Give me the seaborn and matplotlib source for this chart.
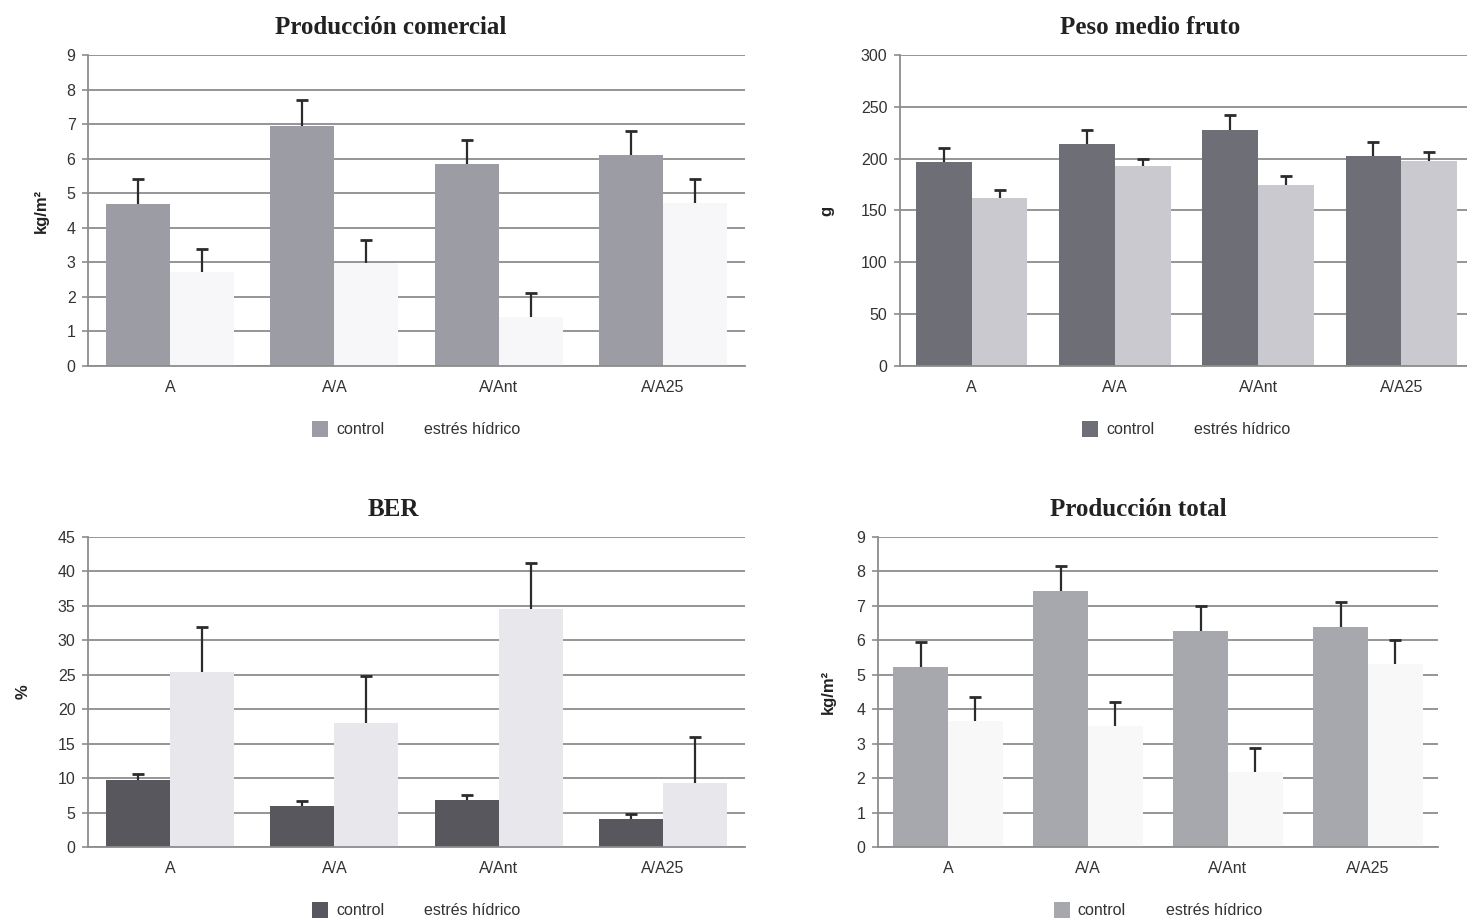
import numpy as np
import pandas as pd
import matplotlib
matplotlib.use("Agg")
import matplotlib.pyplot as plt
import seaborn as sns

# Rootstock / grafting combinations
categories = ["A", "A/A", "A/Ant", "A/A25"]
treatments = ["control", "estrés hídrico"]

# Producción comercial (kg/m2)
com_control = [4.7, 6.95, 5.85, 6.1]
com_control_err = [0.7, 0.75, 0.7, 0.7]
com_stress = [2.72, 2.98, 1.42, 4.72]
com_stress_err = [0.68, 0.68, 0.68, 0.68]

# Peso medio fruto (g)
peso_control = [197, 214, 228, 203]
peso_control_err = [13, 14, 14, 13]
peso_stress = [162, 193, 175, 198]
peso_stress_err = [8, 7, 8, 8]

# BER (%)
ber_control = [9.8, 5.95, 6.8, 4.0]
ber_control_err = [0.8, 0.8, 0.8, 0.85]
ber_stress = [25.4, 18.0, 34.6, 9.3]
ber_stress_err = [6.6, 6.8, 6.7, 6.7]

# Producción total (kg/m2)
tot_control = [5.22, 7.42, 6.26, 6.39]
tot_control_err = [0.74, 0.73, 0.73, 0.73]
tot_stress = [3.66, 3.5, 2.18, 5.3]
tot_stress_err = [0.7, 0.7, 0.7, 0.7]

sns.set_theme(style="white")
plt.rcParams["font.family"] = ["Liberation Sans", "DejaVu Sans"]

fig = plt.figure(figsize=(14.67, 9.18), dpi=100)

panels = [
    dict(title="Producción comercial", ylabel="kg/m²",
         ctrl=com_control, ctrl_err=com_control_err,
         strs=com_stress, strs_err=com_stress_err,
         ylim=9, step=1, colors=("#9c9ca4", "#f7f7f9"),
         rect=[0.0600, 0.6013, 0.4479, 0.3388], title_x=0.461, ylab_x=-0.060),
    dict(title="Peso medio fruto", ylabel="g",
         ctrl=peso_control, ctrl_err=peso_control_err,
         strs=peso_stress, strs_err=peso_stress_err,
         ylim=300, step=50, colors=("#6e6e76", "#c9c9cf"),
         rect=[0.6135, 0.6013, 0.3906, 0.3388], title_x=0.436, ylab_x=-0.114),
    dict(title="BER", ylabel="%",
         ctrl=ber_control, ctrl_err=ber_control_err,
         strs=ber_stress, strs_err=ber_stress_err,
         ylim=45, step=5, colors=("#57575d", "#e8e8ec"),
         rect=[0.0600, 0.0773, 0.4479, 0.3377], title_x=0.464, ylab_x=-0.087),
    dict(title="Producción total", ylabel="kg/m²",
         ctrl=tot_control, ctrl_err=tot_control_err,
         strs=tot_stress, strs_err=tot_stress_err,
         ylim=9, step=1, colors=("#a7a7ae", "#f8f8f8"),
         rect=[0.5985, 0.0773, 0.3817, 0.3377], title_x=0.464, ylab_x=-0.076),
]

grid_col = "#8c8c8c"
err_col = "#2b2b2b"
for p in panels:
    ax = fig.add_axes(p["rect"])
    df = pd.DataFrame({
        "grupo": categories * 2,
        "tratamiento": [treatments[0]] * 4 + [treatments[1]] * 4,
        "valor": list(p["ctrl"]) + list(p["strs"]),
    })
    sns.barplot(data=df, x="grupo", y="valor", hue="tratamiento",
                order=categories, hue_order=treatments,
                palette=dict(zip(treatments, p["colors"])),
                errorbar=None, width=0.78, saturation=1,
                linewidth=0, ax=ax, zorder=2)

    # upper-only error bars: stem from bar top, cap at the top end only
    for cont, vals, errs in zip(ax.containers,
                                [p["ctrl"], p["strs"]],
                                [p["ctrl_err"], p["strs_err"]]):
        xs = np.array([b.get_x() + b.get_width() / 2 for b in cont])
        vals = np.asarray(vals, dtype=float)
        errs = np.asarray(errs, dtype=float)
        ax.errorbar(xs, vals, yerr=[np.zeros(len(vals)), errs], fmt="none",
                    ecolor=err_col, elinewidth=1.6, capsize=0, zorder=3)
        ax.plot(xs, vals + errs, linestyle="none", marker="_",
                markersize=9, markeredgewidth=2.0, color=err_col, zorder=3)

    ax.set_ylim(0, p["ylim"])
    ax.set_yticks(np.arange(0, p["ylim"] + p["step"] / 2, p["step"]))
    ax.set_xlim(-0.5, 3.5)
    ax.set_axisbelow(True)
    ax.yaxis.grid(True, color=grid_col, linewidth=1.3)
    ax.xaxis.grid(False)
    for side in ["top", "right"]:
        ax.spines[side].set_visible(False)
    for side in ["left", "bottom"]:
        ax.spines[side].set_color(grid_col)
        ax.spines[side].set_linewidth(1.3)

    ax.tick_params(axis="y", left=True, length=4, width=1.2, color=grid_col,
                   labelsize=11.5, labelcolor="#333333", pad=5)
    ax.tick_params(axis="x", bottom=False, labelsize=11.5,
                   labelcolor="#333333", pad=4)
    ax.set_xlabel("")
    ax.set_ylabel(p["ylabel"], fontsize=12, fontweight="bold", color="#222222")
    ax.yaxis.set_label_coords(p["ylab_x"], 0.5)

    ax.set_title(p["title"], x=p["title_x"], pad=15,
                 fontsize=18, fontweight="bold", color="#222222",
                 family=["Liberation Serif", "DejaVu Serif"])

    sns.move_legend(ax, "upper center", bbox_to_anchor=(0.5, -0.13),
                    ncol=2, frameon=False, title=None, fontsize=11.5,
                    handlelength=1.0, handleheight=1.2, handletextpad=0.5,
                    columnspacing=1.0)
    leg = ax.get_legend()
    # the second key is printed as a blank swatch
    leg.legend_handles[1].set_facecolor("white")
    for t in leg.get_texts():
        t.set_color("#333333")

fig.savefig("out.png", dpi=100, facecolor="white")
